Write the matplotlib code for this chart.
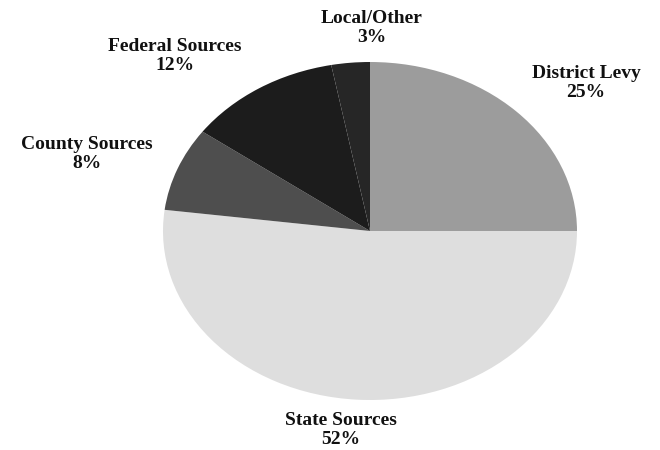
import matplotlib.pyplot as plt

# revenue shares, clockwise from 12 o'clock
labels = ["District Levy", "State Sources", "County Sources", "Federal Sources", "Local/Other"]
shares = [25, 52, 8, 12, 3]
colors = ["#9c9c9c", "#dedede", "#4e4e4e", "#1c1c1c", "#262626"]

fig = plt.figure(figsize=(6.6, 4.5), dpi=100)
ax = fig.add_axes([163 / 660, 50 / 450, 414 / 660, 338 / 450])

ax.pie(shares, colors=colors, startangle=90, counterclock=False,
       radius=1.0, wedgeprops=dict(linewidth=0))
ax.set_aspect("auto")
ax.set_xlim(-1, 1)
ax.set_ylim(-1, 1)
ax.axis("off")

# label centres in pixel coordinates of the 660x450 figure
label_pos = [(586, 83), (341, 430), (87, 154), (175, 56), (372, 28)]
for name, val, (px, py) in zip(labels, shares, label_pos):
    fig.text(px / 660, 1 - py / 450, f"{name}\n{val}%", ha="center", va="center",
             family="Liberation Serif", fontweight="bold", fontsize=14,
             linespacing=1.1, color="#111111")

fig.savefig("out.png", dpi=100, facecolor="white")
